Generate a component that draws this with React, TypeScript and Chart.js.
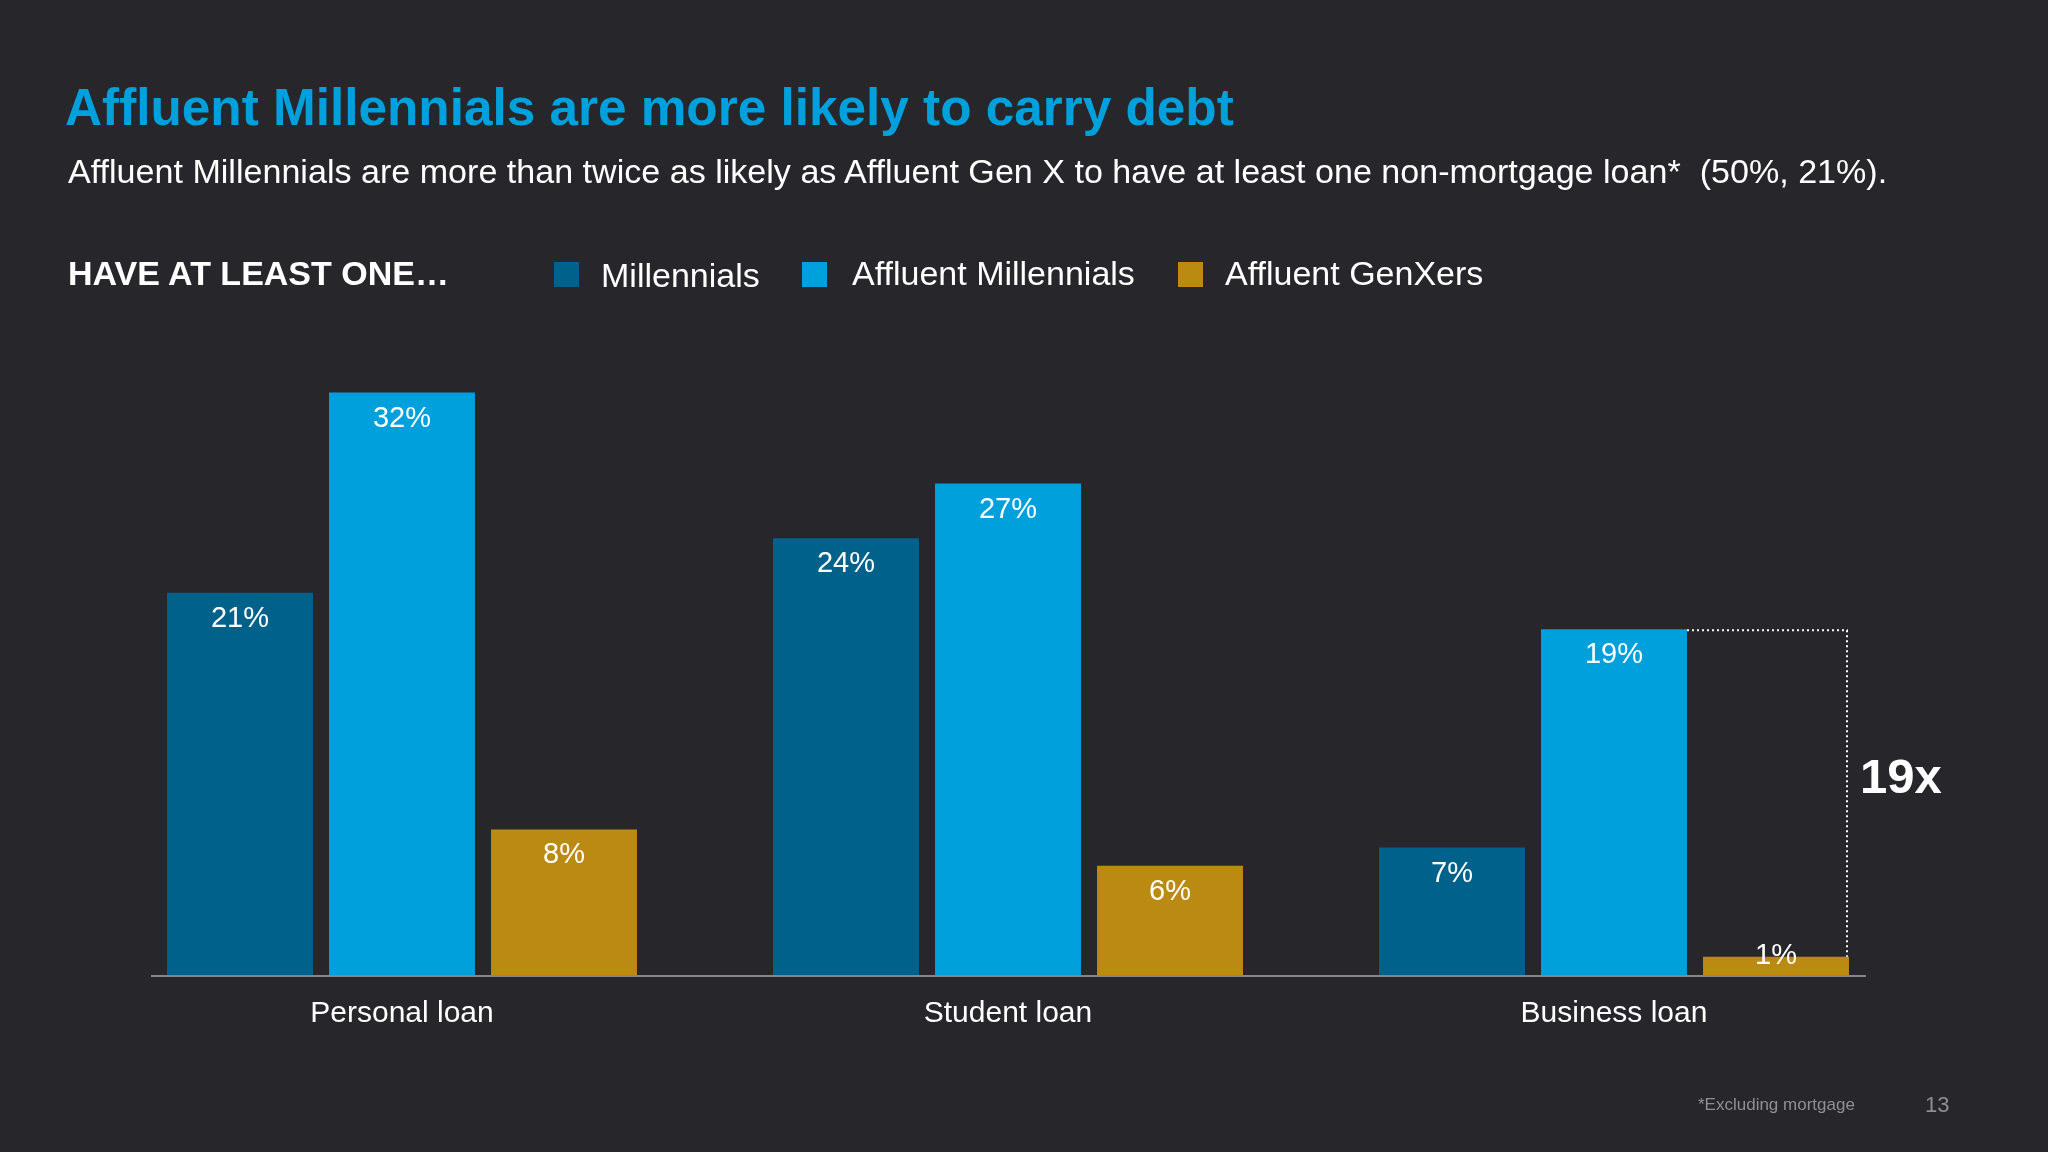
import React, { useEffect, useRef } from "react";
import { Chart, registerables } from "chart.js";

Chart.register(...registerables);

const categories = ["Personal loan", "Student loan", "Business loan"];
const seriesNames = ["Millennials", "Affluent Millennials", "Affluent GenXers"];
const millennials = [21, 24, 7];
const affluentMillennials = [32, 27, 19];
const affluentGenXers = [8, 6, 1];
const seriesColors = ["#00628a", "#00a0dd", "#bb8a12"];
const multipleLabel = "19x";

const titleText = "Affluent Millennials are more likely to carry debt";
const subtitleText =
  "Affluent Millennials are more than twice as likely as Affluent Gen X to have at least one non-mortgage loan*  (50%, 21%).";
const legendHeading = "HAVE AT LEAST ONE\u2026";
const footnoteText = "*Excluding mortgage";
const pageNumber = "13";

const BG = "#27272b";
const FONT = '"Liberation Sans", Arial, Helvetica, sans-serif';

const valueLabelPlugin = {
  id: "valueLabels",
  afterDatasetsDraw(chart: any) {
    const ctx = chart.ctx;
    ctx.save();
    // baseline
    const m0 = chart.getDatasetMeta(0);
    const mLast = chart.getDatasetMeta(chart.data.datasets.length - 1);
    const first = m0.data[0];
    const last = mLast.data[mLast.data.length - 1];
    const y0 = chart.scales.y.getPixelForValue(0);
    ctx.strokeStyle = "#85858a";
    ctx.lineWidth = 2;
    ctx.beginPath();
    ctx.moveTo(first.x - first.width / 2 - 16, y0 + 1);
    ctx.lineTo(last.x + last.width / 2 + 17, y0 + 1);
    ctx.stroke();

    ctx.fillStyle = "#ffffff";
    ctx.font = `29px ${FONT}`;
    ctx.textAlign = "center";
    ctx.textBaseline = "middle";
    chart.data.datasets.forEach((ds: any, di: number) => {
      const meta = chart.getDatasetMeta(di);
      meta.data.forEach((bar: any, i: number) => {
        const h = bar.base - bar.y;
        const cy = h > 50 ? bar.y + 26 : bar.y - 1;
        ctx.fillText(`${ds.data[i]}%`, bar.x, cy);
      });
    });

    // 19x annotation between Affluent Millennials and Affluent GenXers on Business loan
    const idx = categories.length - 1;
    const am = chart.getDatasetMeta(1).data[idx];
    const gx = chart.getDatasetMeta(2).data[idx];
    const xr = gx.x + gx.width / 2 - 2;
    ctx.strokeStyle = "#ffffff";
    ctx.lineWidth = 2;
    ctx.setLineDash([2, 3]);
    ctx.beginPath();
    ctx.moveTo(am.x + am.width / 2, am.y + 1);
    ctx.lineTo(xr, am.y + 1);
    ctx.lineTo(xr, gx.y);
    ctx.stroke();
    ctx.setLineDash([]);
    ctx.font = `bold 49px ${FONT}`;
    ctx.textAlign = "left";
    ctx.textBaseline = "middle";
    ctx.fillText(multipleLabel, xr + 13, (am.y + gx.y) / 2 - 14);
    ctx.restore();
  },
};

export default function App() {
  const ref = useRef<HTMLCanvasElement | null>(null);

  useEffect(() => {
    document.body.style.margin = "0";
    document.body.style.background = BG;
    const canvas = ref.current;
    if (!canvas) return;
    const values = [millennials, affluentMillennials, affluentGenXers];
    const chart = new Chart(canvas, {
      type: "bar",
      data: {
        labels: categories,
        datasets: seriesNames.map((name, i) => ({
          label: name,
          data: values[i],
          backgroundColor: seriesColors[i],
          borderWidth: 0,
          categoryPercentage: 0.802,
          barPercentage: 0.901,
        })),
      },
      options: {
        animation: false,
        responsive: false,
        devicePixelRatio: 1,
        layout: { padding: { left: 99, right: 131, top: 247, bottom: 99 } },
        plugins: {
          legend: { display: false },
          title: { display: false },
          tooltip: { enabled: false },
        },
        scales: {
          x: {
            grid: { display: false, drawTicks: false },
            border: { display: false },
            ticks: {
              color: "#ffffff",
              font: { family: FONT, size: 30 },
              padding: 21,
            },
          },
          y: {
            display: false,
            min: 0,
            max: 40,
          },
        },
      },
      plugins: [valueLabelPlugin],
    });
    return () => chart.destroy();
  }, []);

  const abs = (o: React.CSSProperties): React.CSSProperties => ({
    position: "absolute",
    whiteSpace: "pre",
    lineHeight: 1,
    fontFamily: FONT,
    margin: 0,
    ...o,
  });

  const legendX = [
    { sq: 554, tx: 601 },
    { sq: 802, tx: 852 },
    { sq: 1178, tx: 1225 },
  ];

  return (
    <div
      style={{
        position: "relative",
        width: 2048,
        height: 1152,
        background: BG,
        overflow: "hidden",
      }}
    >
      <canvas
        ref={ref}
        width={2048}
        height={1152}
        style={{ position: "absolute", left: 0, top: 0, width: 2048, height: 1152 }}
      />
      <div style={abs({ left: 65, top: 82, fontSize: 51.3, fontWeight: 700, color: "#00a0dd" })}>
        {titleText}
      </div>
      <div style={abs({ left: 68, top: 154, fontSize: 34.1, color: "#ffffff" })}>{subtitleText}</div>
      <div style={abs({ left: 68, top: 256, fontSize: 34, fontWeight: 700, color: "#ffffff" })}>
        {legendHeading}
      </div>
      {seriesNames.map((name, i) => (
        <React.Fragment key={name}>
          <div
            style={{
              position: "absolute",
              left: legendX[i].sq,
              top: 262,
              width: 25,
              height: 25,
              background: seriesColors[i],
            }}
          />
          <div style={abs({ left: legendX[i].tx, top: i === 0 ? 258 : 256, fontSize: 34, color: "#ffffff" })}>
            {name}
          </div>
        </React.Fragment>
      ))}
      <div style={abs({ left: 1698, top: 1096, fontSize: 17, color: "#8e8e93" })}>{footnoteText}</div>
      <div style={abs({ left: 1925, top: 1094, fontSize: 22, color: "#8e8e93" })}>{pageNumber}</div>
    </div>
  );
}
